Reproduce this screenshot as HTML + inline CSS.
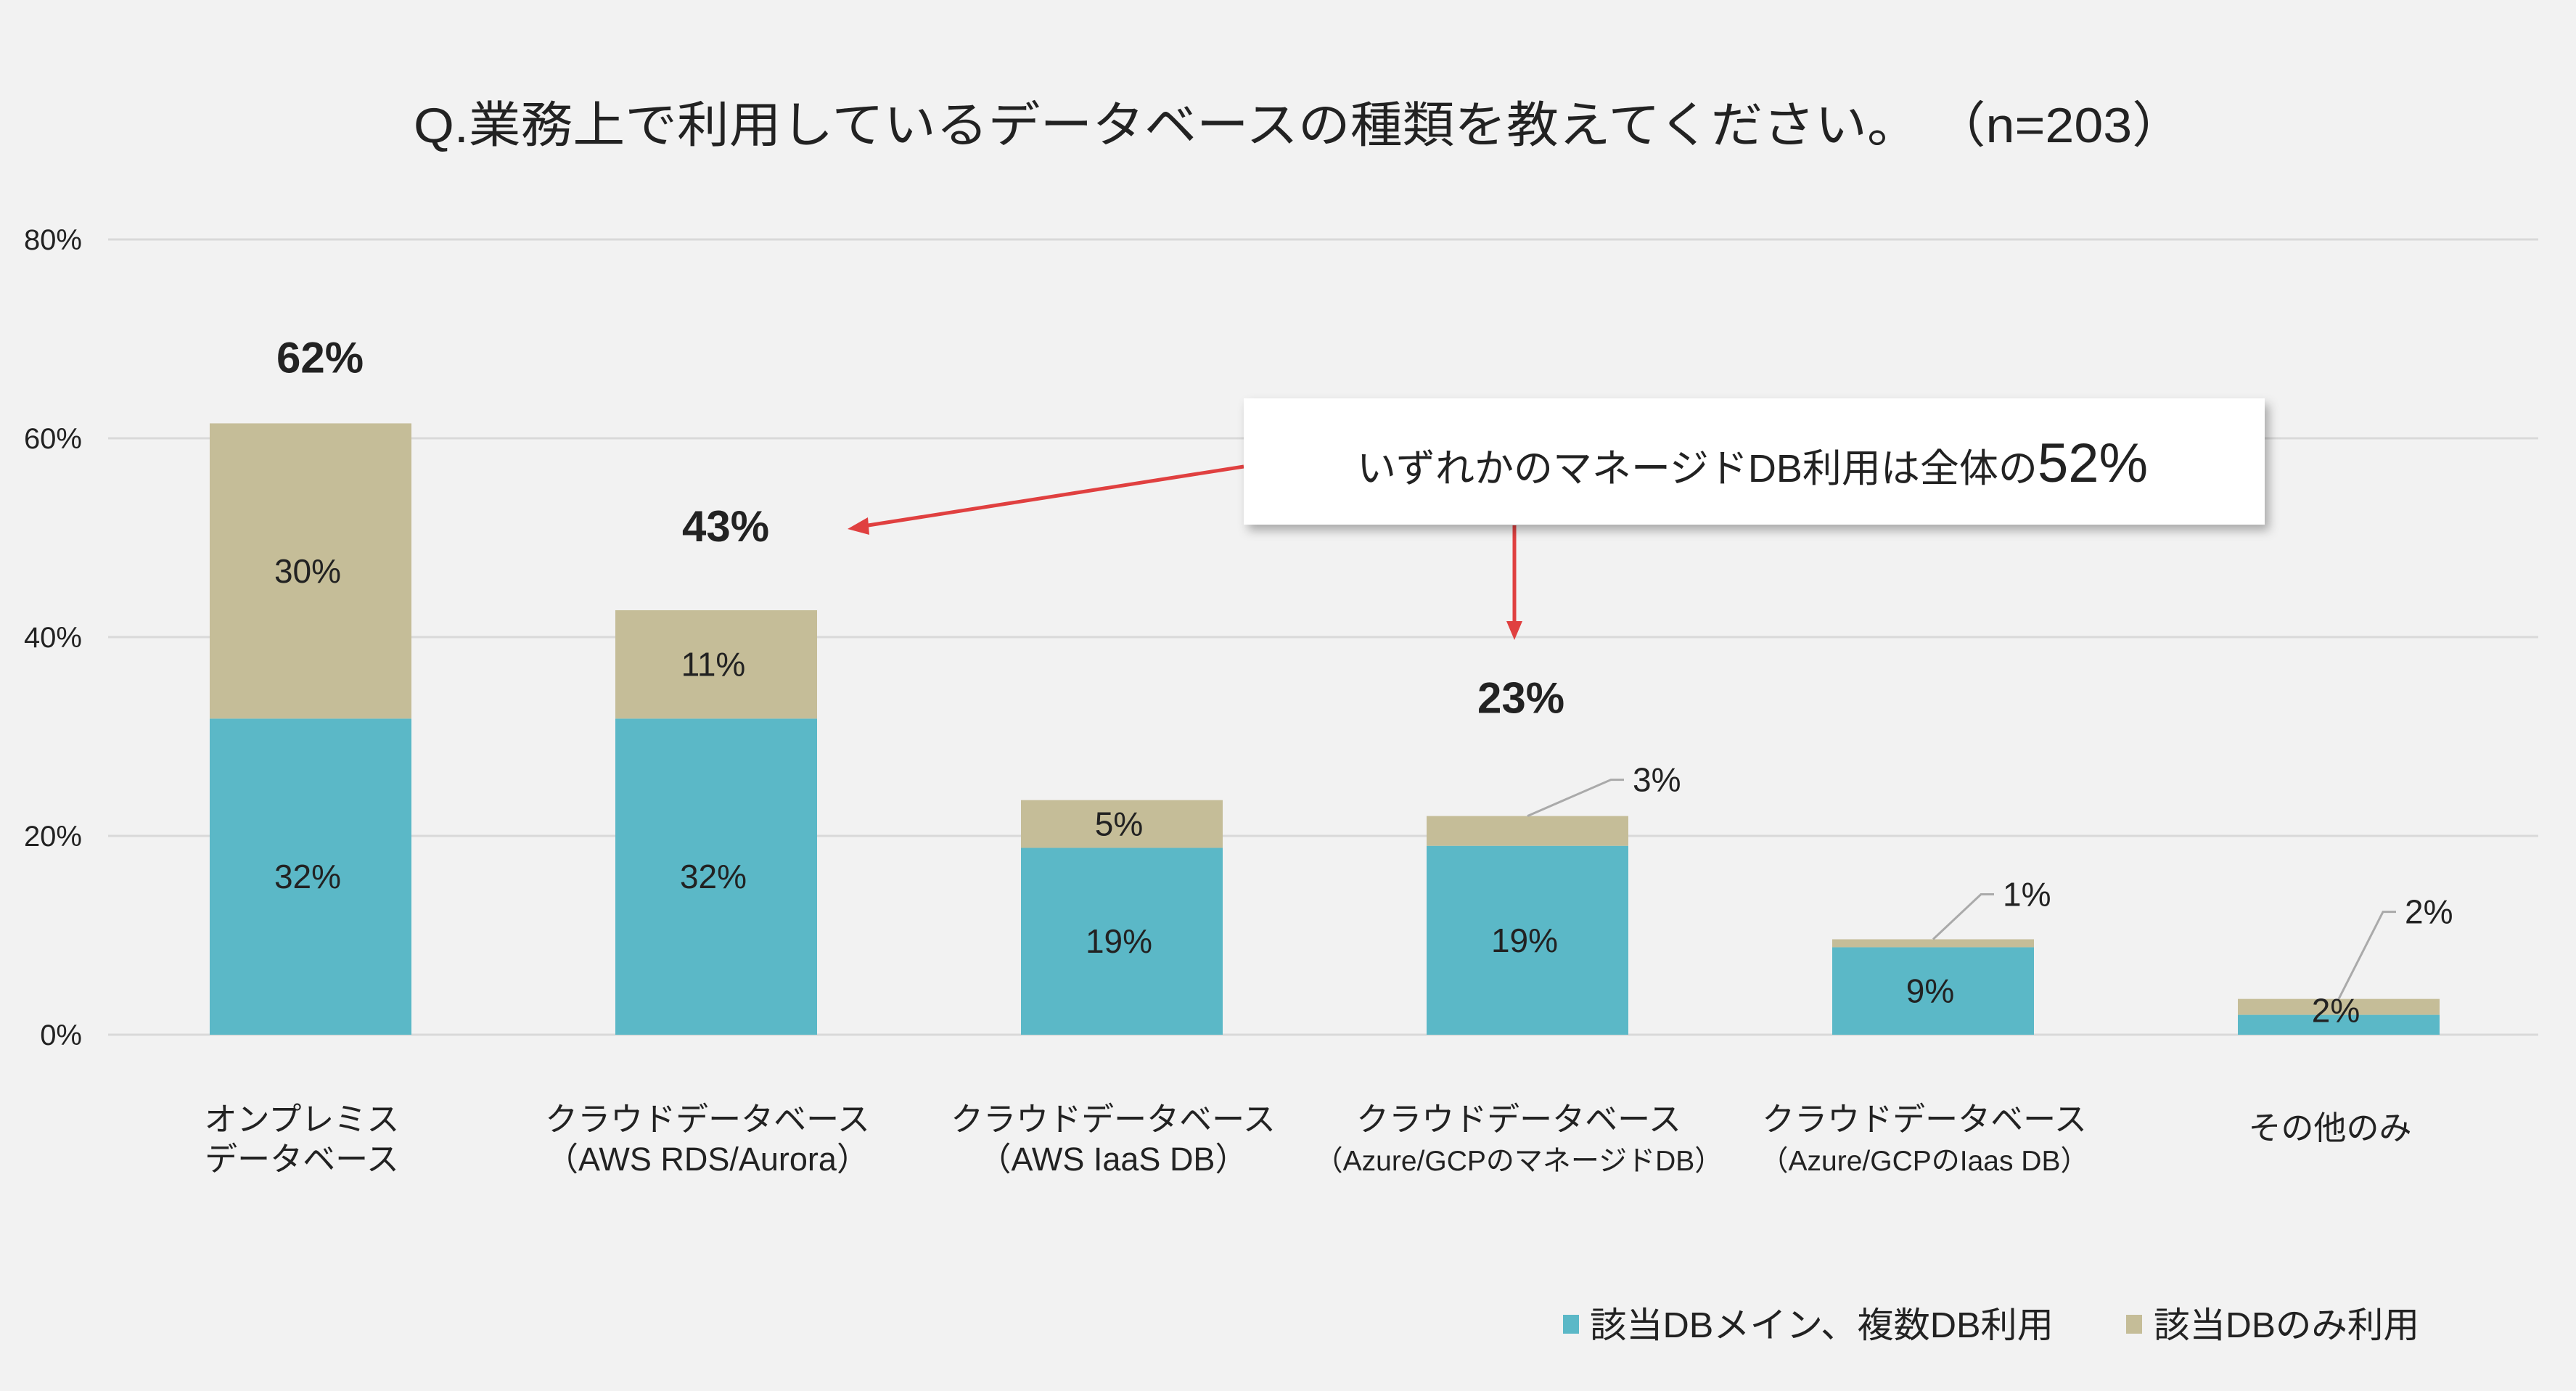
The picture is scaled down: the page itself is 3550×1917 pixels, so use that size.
<!DOCTYPE html>
<html><head><meta charset="utf-8"><style>
html,body{margin:0;padding:0;background:#f2f2f2;}
svg{display:block;}
text{font-family:"Liberation Sans","Noto Sans CJK JP",sans-serif;fill:#222;}
</style></head><body>
<svg id="chart" width="3550" height="1917" viewBox="0 0 3550 1917" xmlns="http://www.w3.org/2000/svg">
<defs><filter id="sh" x="-5%" y="-20%" width="115%" height="150%"><feDropShadow dx="6" dy="8" stdDeviation="7" flood-color="#000" flood-opacity="0.3"/></filter></defs>
<rect width="3550" height="1917" fill="#f2f2f2"/>
<text x="1790" y="196" font-size="68" text-anchor="middle" textLength="2440" lengthAdjust="spacingAndGlyphs">Q.業務上で利用しているデータベースの種類を教えてください。 （n=203）</text>
<g id="grid"></g><g id="bars"></g><g id="labels"></g>
<line x1="1714" y1="643" x2="1190" y2="725" stroke="#e04040" stroke-width="5"/>
<polygon points="1168,729 1196,713 1198,737" fill="#e04040"/>
<line x1="2087" y1="724" x2="2087" y2="860" stroke="#e04040" stroke-width="5"/>
<polygon points="2087,882 2076,856 2098,856" fill="#e04040"/>
<rect x="1714" y="549" width="1407" height="174" fill="#fff" filter="url(#sh)"/>
<text x="1870" y="664" font-size="54" fill="#333">いずれかのマネージドDB利用は全体の<tspan font-size="76">52%</tspan></text>
<g>
<rect x="2154" y="1812" width="22" height="26" fill="#5bb8c7"/>
<text x="2191" y="1843" font-size="49" textLength="639" lengthAdjust="spacingAndGlyphs">該当DBメイン、複数DB利用</text>
<rect x="2930" y="1812" width="22" height="26" fill="#c5bd98"/>
<text x="2968" y="1843" font-size="49" textLength="366" lengthAdjust="spacingAndGlyphs">該当DBのみ利用</text>
</g>
</svg>
<script>
const categories1 = ["オンプレミス","クラウドデータベース","クラウドデータベース","クラウドデータベース","クラウドデータベース","その他のみ"];
const categories2 = ["データベース","（AWS RDS/Aurora）","（AWS IaaS DB）","（Azure/GCPのマネージドDB）","（Azure/GCPのIaas DB）",""];
const mainValues = [31.8,31.8,18.8,19.0,8.8,2.0];
const onlyValues = [29.7,10.9,4.8,3.0,0.8,1.6];
const mainLabels = ["32%","32%","19%","19%","9%","2%"];
const onlyLabels = ["30%","11%","5%","3%","1%","2%"];
const totalLabels = ["62%","43%","","23%","",""];
const yTicks = [0,20,40,60,80];

const NS="http://www.w3.org/2000/svg";
const y0=1426, pxPer=13.7, x0=428, step=559, bw=278;
const yS=v=>y0-v*pxPer, xC=i=>x0+i*step;
function mk(tag,attrs,parent,txt){const e=document.createElementNS(NS,tag);for(const k in attrs)e.setAttribute(k,attrs[k]);if(txt!==undefined)e.textContent=txt;parent.appendChild(e);return e;}
const grid=document.getElementById('grid'), bars=document.getElementById('bars'), lab=document.getElementById('labels');
yTicks.forEach(t=>{
  const l=mk('line',{x1:149,x2:3498,y1:yS(t),y2:yS(t),stroke:'#d9d9d9','stroke-width':3},grid);
  
  
  const tx=mk('text',{x:113,y:yS(t)+14,'font-size':40,'text-anchor':'end'},grid,t+'%');
  
  
});
mainValues.forEach((m,i)=>{
  const o=onlyValues[i], cx=xC(i);
  const r1=mk('rect',{x:cx-bw/2,y:yS(m),width:bw,height:m*pxPer,fill:'#5bb8c7'},bars);
  
  
  const r2=mk('rect',{x:cx-bw/2,y:yS(m+o),width:bw,height:o*pxPer,fill:'#c5bd98'},bars);
  
  
  const t1=mk('text',{x:cx-4,y:(yS(m)+y0)/2+16,'font-size':46,'text-anchor':'middle'},lab,mainLabels[i]);
  if(i===5)t1.setAttribute('y',yS(m)+10);
  
  
  if(o>=4){
    const t2=mk('text',{x:cx-4,y:(yS(m)+yS(m+o))/2+16,'font-size':46,'text-anchor':'middle'},lab,onlyLabels[i]);
    
    
  } else {
    const ty=yS(m+o)-[0,0,0,50,62,120][i];
    const dx=[0,0,0,115,66,61][i];
    const pl=mk('polyline',{points:`${cx},${yS(m+o)} ${cx+dx},${ty} ${cx+dx+18},${ty}`,fill:'none',stroke:'#aaa','stroke-width':3},lab);
    
    
    const t2=mk('text',{x:cx+dx+30,y:ty+16,'font-size':46},lab,onlyLabels[i]);
    
    
  }
  if(totalLabels[i]){
    const tt=mk('text',{x:cx+[13,13,0,-9,0,0][i],y:yS(m+o)-70-[0,25,0,72,0,0][i],'font-size':60,'font-weight':'bold','text-anchor':'middle',fill:'#333'},lab,totalLabels[i]);
    
    
  }
  const c1=mk('text',{x:cx-12,y:i===5?1570:1558,'font-size':45,'text-anchor':'middle',fill:'#333'},lab,categories1[i]);
  
  
  if(categories2[i]){
    const c2=mk('text',{x:cx-12,y:1613,'font-size':(i===3||i===4)?39:45,'text-anchor':'middle',fill:'#333'},lab,categories2[i]);
    
    
  }
});
</script>
</body></html>
